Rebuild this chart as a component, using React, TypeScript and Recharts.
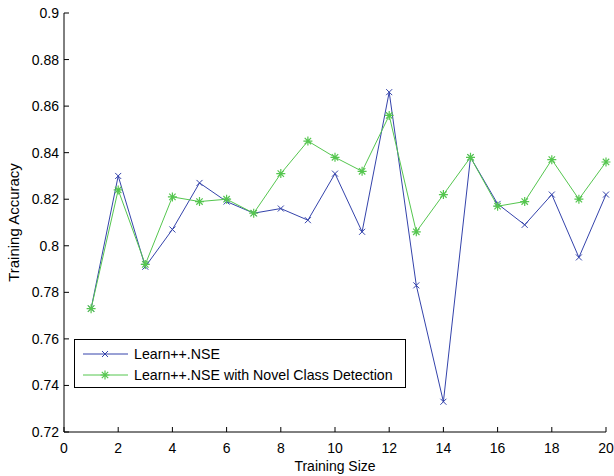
import { LineChart, Line, XAxis, YAxis, Legend } from 'recharts';

const sizes = [1, 2, 3, 4, 5, 6, 7, 8, 9, 10, 11, 12, 13, 14, 15, 16, 17, 18, 19, 20];
const nseAcc = [0.773, 0.83, 0.791, 0.807, 0.827, 0.819, 0.814, 0.816, 0.811, 0.831, 0.806, 0.866, 0.783, 0.733, 0.838, 0.818, 0.809, 0.822, 0.795, 0.822];
const ncdAcc = [0.773, 0.824, 0.792, 0.821, 0.819, 0.82, 0.814, 0.831, 0.845, 0.838, 0.832, 0.856, 0.806, 0.822, 0.838, 0.817, 0.819, 0.837, 0.82, 0.836];
const xTicks = [0, 2, 4, 6, 8, 10, 12, 14, 16, 18, 20];
const yTicks = [0.72, 0.74, 0.76, 0.78, 0.8, 0.82, 0.84, 0.86, 0.88, 0.9];

const BLUE = '#3443ab';
const GREEN = '#55c64f';
const FONT = '"Liberation Sans", Arial, Helvetica, sans-serif';
const TICK = 5;

const data = sizes.map((s, i) => ({ size: s, nse: nseAcc[i], ncd: ncdAcc[i] }));

// matlab-style 'x' marker
const Cross = ({ cx, cy, color }: any) => (
  <path d={`M${cx - 3},${cy - 3}L${cx + 3},${cy + 3}M${cx - 3},${cy + 3}L${cx + 3},${cy - 3}`} stroke={color} strokeWidth={1} fill="none" />
);

// matlab-style '*' marker
const Star = ({ cx, cy, color }: any) => (
  <path
    d={`M${cx - 4.5},${cy}L${cx + 4.5},${cy}M${cx},${cy - 4.5}L${cx},${cy + 4.5}M${cx - 3.2},${cy - 3.2}L${cx + 3.2},${cy + 3.2}M${cx - 3.2},${cy + 3.2}L${cx + 3.2},${cy - 3.2}`}
    stroke={color}
    strokeWidth={1.2}
    fill="none"
  />
);

const BottomTick = ({ x, y, payload }: any) => (
  <g>
    <line x1={x} x2={x} y1={y} y2={y - TICK} stroke="#000" />
    <text x={x} y={y + 21} textAnchor="middle" fontSize={14} fontFamily={FONT} fill="#000">
      {payload.value}
    </text>
  </g>
);

const TopTick = ({ x, y }: any) => <line x1={x} x2={x} y1={y} y2={y + TICK} stroke="#000" />;

const LeftTick = ({ x, y, payload }: any) => (
  <g>
    <line x1={x} x2={x + TICK} y1={y} y2={y} stroke="#000" />
    <text x={x - 5} y={y + 5} textAnchor="end" fontSize={14} fontFamily={FONT} fill="#000">
      {String(payload.value)}
    </text>
  </g>
);

const RightTick = ({ x, y }: any) => <line x1={x} x2={x - TICK} y1={y} y2={y} stroke="#000" />;

// rotated y title, centred on the plot height
const YTitle = ({ viewBox }: any) => (
  <text
    transform={`translate(19, ${viewBox.y + viewBox.height / 2}) rotate(-90)`}
    textAnchor="middle"
    fontSize={15}
    fontFamily={FONT}
    fill="#000"
  >
    Training Accuracy
  </text>
);

const LegendBox = ({ payload }: any) => (
  <div
    style={{
      border: '1px solid #000',
      background: '#fff',
      width: 332,
      height: 49,
      boxSizing: 'border-box',
      padding: '3px 0 0 8px',
      fontFamily: FONT,
      fontSize: 14.2,
    }}
  >
    {(payload || []).map((entry: any) => {
      const isNse = entry.dataKey === 'nse';
      const color = isNse ? BLUE : GREEN;
      return (
        <div key={entry.dataKey} style={{ display: 'flex', alignItems: 'center', height: 21 }}>
          <svg width={50} height={12} style={{ marginRight: 1 }}>
            <line x1={0} x2={45} y1={6} y2={6} stroke={color} strokeWidth={1} />
            {isNse ? <Cross cx={22} cy={6} color={color} /> : <Star cx={22} cy={6} color={color} />}
          </svg>
          <span>{entry.value}</span>
        </div>
      );
    })}
  </div>
);

export default function App() {
  return (
    <div style={{ position: 'absolute', left: 0, top: 0, width: 614, height: 476, background: '#fff' }}>
      <LineChart width={614} height={476} data={data} margin={{ top: 13, right: 8, left: 0, bottom: 0 }}>
        <XAxis
          xAxisId="b"
          dataKey="size"
          type="number"
          domain={[0, 20]}
          ticks={xTicks}
          interval={0}
          height={44}
          tickSize={0}
          tickMargin={0}
          tickLine={false}
          tick={<BottomTick />}
          axisLine={{ stroke: '#000' }}
          label={{ value: 'Training Size', position: 'insideBottom', offset: 5, fontSize: 14, fontFamily: FONT, fill: '#000' }}
        />
        <XAxis
          xAxisId="t"
          orientation="top"
          dataKey="size"
          type="number"
          domain={[0, 20]}
          ticks={xTicks}
          interval={0}
          height={0}
          tickSize={0}
          tickMargin={0}
          tickLine={false}
          tick={<TopTick />}
          axisLine={{ stroke: '#000' }}
        />
        <YAxis
          yAxisId="l"
          type="number"
          domain={[0.72, 0.9]}
          ticks={yTicks}
          interval={0}
          width={64}
          tickSize={0}
          tickMargin={0}
          tickLine={false}
          tick={<LeftTick />}
          axisLine={{ stroke: '#000' }}
          label={<YTitle />}
        />
        <YAxis
          yAxisId="r"
          orientation="right"
          type="number"
          domain={[0.72, 0.9]}
          ticks={yTicks}
          interval={0}
          width={0}
          tickSize={0}
          tickMargin={0}
          tickLine={false}
          tick={<RightTick />}
          axisLine={{ stroke: '#000' }}
        />
        <Legend
          layout="horizontal"
          align="center"
          verticalAlign="middle"
          content={<LegendBox />}
          wrapperStyle={{ position: 'absolute', left: 74, top: 339, width: 'auto' }}
        />
        <Line
          xAxisId="b"
          yAxisId="l"
          dataKey="nse"
          name="Learn++.NSE"
          stroke={BLUE}
          strokeWidth={1}
          isAnimationActive={false}
          dot={(p: any) => <Cross key={`n${p.index}`} cx={p.cx} cy={p.cy} color={BLUE} />}
          activeDot={false}
        />
        <Line
          xAxisId="b"
          yAxisId="l"
          dataKey="ncd"
          name="Learn++.NSE with Novel Class Detection"
          stroke={GREEN}
          strokeWidth={1}
          isAnimationActive={false}
          dot={(p: any) => <Star key={`c${p.index}`} cx={p.cx} cy={p.cy} color={GREEN} />}
          activeDot={false}
        />
      </LineChart>
    </div>
  );
}
